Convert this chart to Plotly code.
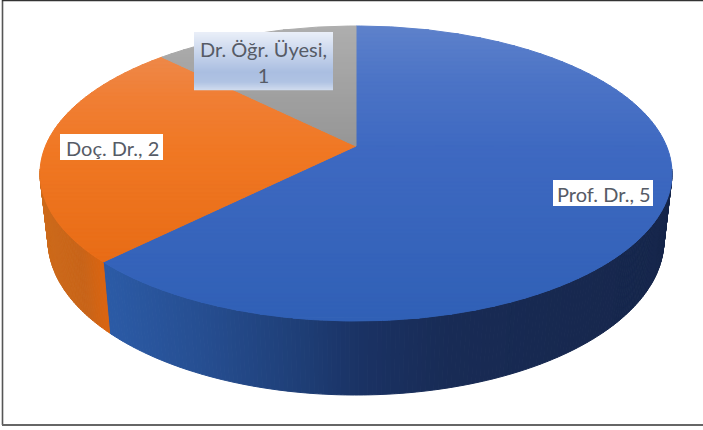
import numpy as np
import plotly.graph_objects as go

# Staff counts by academic title
categories = ["Prof. Dr.", "Doç. Dr.", "Dr. Öğr. Üyesi"]
values = [5, 2, 1]

W, H = 703, 430

# Disc geometry in page pixels
TOP = dict(cx=356.0, cy=173.5, rx=316.0, ry=147.5)
BOTTOM = dict(cx=356.0, cy=240.0, rx=308.0, ry=155.0)
TILT = 0.186  # perspective shift of the pie centre towards the back rim


def lerp_colour(stops, pos):
    xs = [s[0] for s in stops]
    rgb = [np.interp(pos, xs, [s[1][i] for s in stops]) for i in range(3)]
    return "rgb({:.0f},{:.0f},{:.0f})".format(*rgb)


def project(phi, disc, radius=1.0):
    """Pie angle (clockwise from 12 o'clock) to page pixels under perspective."""
    u, v = radius * np.sin(phi), radius * np.cos(phi)
    d = 1 + TILT * v
    x = u * np.sqrt(1 - TILT ** 2) / d
    y = (v + TILT) / d
    return disc["cx"] + disc["rx"] * x, disc["cy"] - disc["ry"] * y


def clip_band(points, y0, y1):
    """Clip a polygon to a horizontal band."""
    def clip(pts, inside, cross_y):
        out = []
        for i in range(len(pts)):
            a, b = pts[i], pts[(i + 1) % len(pts)]
            if inside(a):
                out.append(a)
            if inside(a) != inside(b):
                t = (cross_y - a[1]) / (b[1] - a[1])
                out.append((a[0] + t * (b[0] - a[0]), cross_y))
        return out
    pts = clip(points, lambda p: p[1] >= y0, y0)
    if pts:
        pts = clip(pts, lambda p: p[1] <= y1, y1)
    return pts


def patch(xs, ys, colour):
    return go.Scatter(
        x=xs, y=ys, mode="lines", fill="toself", fillcolor=colour,
        line=dict(color=colour, width=1), hoverinfo="skip", showlegend=False,
    )


top_shades = [
    [(26, (94, 130, 203)), (80, (76, 116, 198)), (150, (62, 105, 193)), (321, (48, 96, 182))],
    [(58, (238, 136, 72)), (100, (240, 126, 52)), (150, (240, 120, 36)), (263, (232, 108, 22))],
    [(26, (174, 174, 174)), (146, (150, 150, 150))],
]
wall_shades = [
    [(110, (43, 90, 165)), (200, (38, 78, 145)), (300, (30, 62, 118)),
     (360, (26, 50, 100)), (450, (24, 43, 85)), (672, (22, 38, 75))],
    [(40, (205, 106, 26)), (80, (200, 100, 25)), (110, (224, 100, 12))],
    [(0, (130, 130, 130)), (703, (130, 130, 130))],
]

fig = go.Figure()

shares = np.array(values, dtype=float) / sum(values) * 2 * np.pi
ends = np.cumsum(shares)
starts = ends - shares

# Outer wall of the disc, only the stretch facing the viewer
rim_from = np.pi / 2 + np.arcsin(TILT) - 0.03
rim_to = 3 * np.pi / 2 - np.arcsin(TILT) + 0.03
for start, end, shade in zip(starts, ends, wall_shades):
    lo, hi = max(start, rim_from), min(end, rim_to)
    if lo >= hi:
        continue
    steps = max(2, int((hi - lo) / 0.012))
    grid = np.linspace(lo, hi, steps + 1)
    for a, b in zip(grid[:-1], grid[1:]):
        xa, ya = project(a, TOP)
        xb, yb = project(b, TOP)
        xc, yc = project(b, BOTTOM)
        xd, yd = project(a, BOTTOM)
        colour = lerp_colour(shade, (xa + xb) / 2)
        fig.add_trace(patch([xa, xb, xc, xd, xa], [ya, yb, yc, yd, ya], colour))

# Top face, shaded in thin horizontal bands
apex = project(0.0, TOP, radius=0.0)
for start, end, shade in zip(starts, ends, top_shades):
    arc = np.linspace(start, end, 240)
    ring = [project(p, TOP) for p in arc]
    poly = [apex] + ring
    ymin = min(p[1] for p in poly)
    ymax = max(p[1] for p in poly)
    for y0 in np.arange(ymin, ymax, 4.0):
        band = clip_band(poly, y0, min(y0 + 4.0, ymax))
        if len(band) < 3:
            continue
        xs = [p[0] for p in band] + [band[0][0]]
        ys = [p[1] for p in band] + [band[0][1]]
        fig.add_trace(patch(xs, ys, lerp_colour(shade, y0 + 2)))

shapes = []

# Chart frame
frame = "#555555"
shapes.append(dict(type="line", x0=2.5, x1=2.5, y0=0, y1=425, line=dict(color=frame, width=1.6)))
shapes.append(dict(type="line", x0=2, x1=703, y0=0.5, y1=0.5, line=dict(color="#333333", width=1.6)))
shapes.append(dict(type="line", x0=2, x1=703, y0=425, y1=425, line=dict(color="#666666", width=1.8)))

# Label plates
plates = [
    (553, 653, 180, 206, None),
    (60, 163, 134, 160, None),
    (194, 333, 32, 90, [(32, (234, 239, 248)), (50, (205, 217, 238)),
                        (72, (170, 190, 225)), (82, (176, 195, 227)), (90, (208, 219, 238))]),
]
for x0, x1, y0, y1, shade in plates:
    if shade is None:
        shapes.append(dict(type="rect", x0=x0, x1=x1, y0=y0, y1=y1,
                           fillcolor="white", line=dict(width=0)))
    else:
        for y in range(y0, y1):
            shapes.append(dict(type="rect", x0=x0, x1=x1, y0=y, y1=y + 1.3,
                               fillcolor=lerp_colour(shade, y + 0.5), line=dict(width=0)))

# Category and value labels
label_text = [
    f"{categories[0]}, {values[0]}",
    f"{categories[1]}, {values[1]}",
    f"{categories[2]},<br>{values[2]}",
]
label_pos = [(604, 193.5), (112, 147.5), (263.5, 62)]
annotations = [
    dict(x=x, y=y, text=t, showarrow=False, xanchor="center", yanchor="middle",
         font=dict(family="Lato", size=20, color="#565b66"), align="center")
    for t, (x, y) in zip(label_text, label_pos)
]

fig.update_layout(
    width=W, height=H, margin=dict(l=0, r=0, t=0, b=0),
    paper_bgcolor="white", plot_bgcolor="white", showlegend=False,
    xaxis=dict(range=[0, W], visible=False, fixedrange=True),
    yaxis=dict(range=[H, 0], visible=False, fixedrange=True),
    shapes=shapes, annotations=annotations,
)

fig.write_html("out.html", config=dict(displayModeBar=False))
